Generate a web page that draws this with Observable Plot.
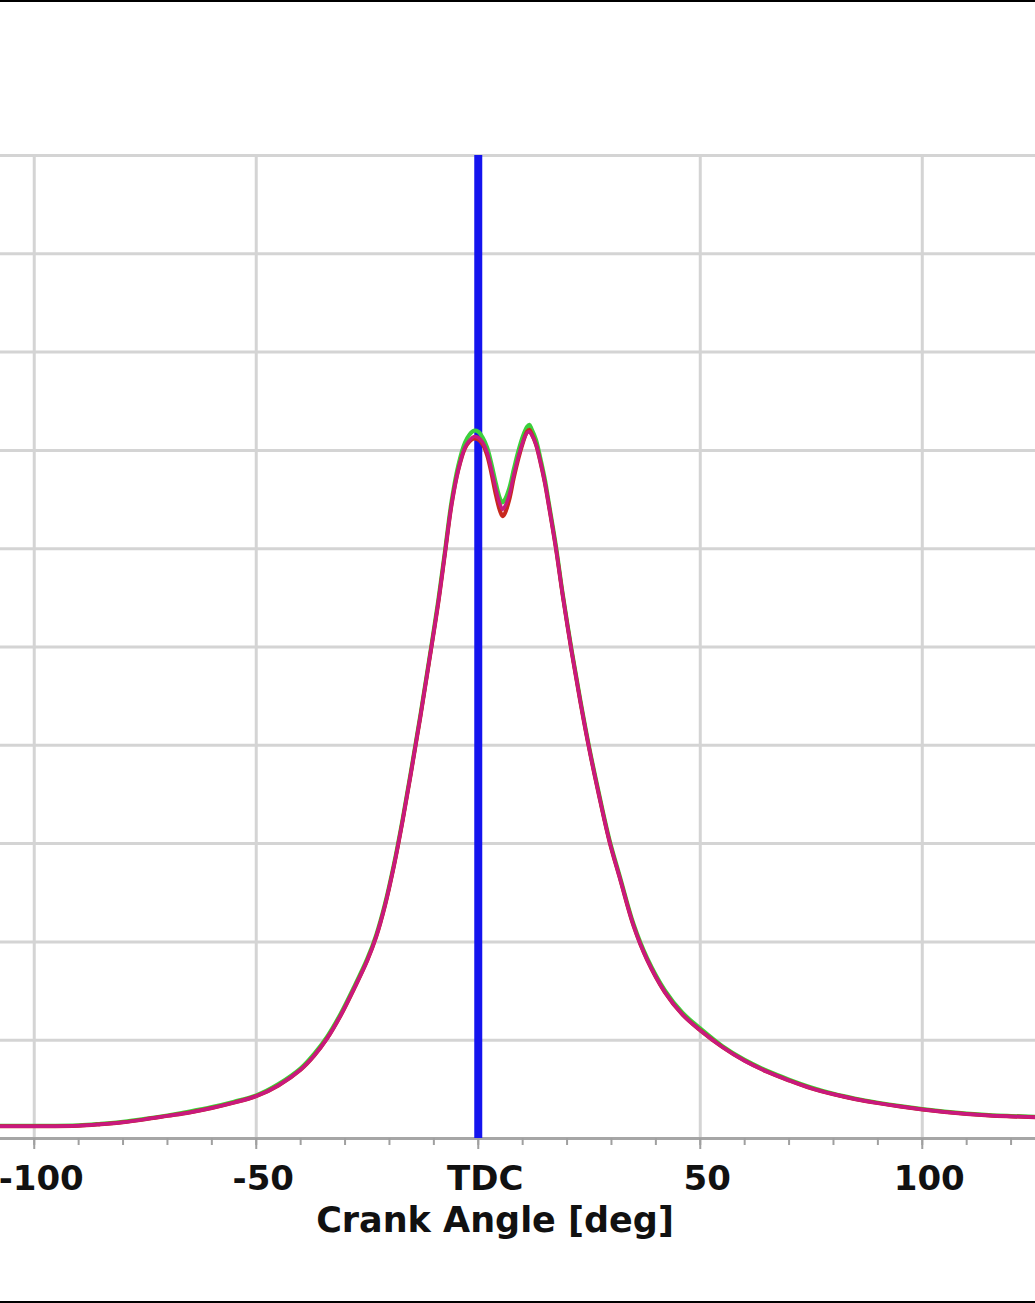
<!DOCTYPE html>
<html><head><meta charset="utf-8">
<script src="https://cdn.jsdelivr.net/npm/d3@7"></script>
<script src="https://cdn.jsdelivr.net/npm/@observablehq/plot@0.6"></script>
<style>
body{margin:0;background:#fff;}
#chart{width:1035px;border-top:2px solid #000;border-bottom:2px solid #000;overflow:hidden;}
#chart svg{display:block;}
</style></head><body><div id="chart"></div>
<script>
// Crank angle [deg]
const angles = [-108, -100, -90, -85, -80, -75, -70, -65, -60, -55, -50, -45, -40, -37, -34, -31, -28, -25, -23, -21, -19, -17, -15, -13, -11, -9, -7.5, -6, -4.5, -3, -2, -1, 0, 1, 2, 3, 4, 5, 5.5, 6, 7, 8, 9, 10, 11, 11.5, 12, 13, 14, 15, 16, 17.5, 19, 21, 23, 25, 27, 29.5, 32, 35, 38, 42, 46, 50, 55, 60, 65, 70, 75, 80, 85, 90, 95, 100, 105, 110, 115, 120, 126];
// Cylinder pressure traces (overlaid)
const pressureMagenta = [1.25, 1.25, 1.3, 1.45, 1.65, 1.95, 2.3, 2.65, 3.1, 3.65, 4.3, 5.4, 7.0, 8.4, 10.2, 12.5, 15.2, 18.1, 20.5, 23.7, 27.7, 32.4, 37.6, 43.0, 48.7, 54.5, 59.5, 64.5, 68.0, 70.3, 71.0, 71.4, 71.3, 70.8, 69.8, 68.0, 66.0, 64.4, 64.0, 64.3, 65.5, 67.5, 69.3, 70.8, 71.8, 71.9, 71.6, 70.6, 68.8, 66.7, 64.1, 60.0, 55.3, 49.6, 44.4, 39.6, 35.3, 30.3, 26.3, 21.6, 18.2, 14.9, 12.6, 11.0, 9.3, 7.9, 6.8, 5.9, 5.1, 4.5, 4.0, 3.6, 3.25, 2.95, 2.7, 2.5, 2.35, 2.25, 2.15];
const pressureGreen = [1.3, 1.3, 1.35, 1.5, 1.7, 2.0, 2.35, 2.75, 3.2, 3.75, 4.4, 5.55, 7.15, 8.6, 10.4, 12.7, 15.4, 18.3, 20.7, 23.9, 27.9, 32.6, 37.8, 43.2, 48.9, 54.8, 59.8, 64.9, 68.5, 70.8, 71.6, 72.0, 71.9, 71.3, 70.3, 68.6, 66.6, 65.0, 64.7, 65.0, 66.2, 68.1, 69.9, 71.4, 72.4, 72.6, 72.2, 71.1, 69.2, 67.1, 64.4, 60.3, 55.5, 49.8, 44.6, 39.8, 35.5, 30.5, 26.5, 21.8, 18.4, 15.1, 12.8, 11.2, 9.4, 8.0, 6.9, 6.0, 5.2, 4.55, 4.05, 3.65, 3.3, 3.0, 2.75, 2.55, 2.4, 2.3, 2.2];
const pressureRed = [1.25, 1.25, 1.3, 1.45, 1.65, 1.95, 2.3, 2.65, 3.1, 3.65, 4.3, 5.4, 7.0, 8.4, 10.2, 12.5, 15.2, 18.1, 20.5, 23.7, 27.7, 32.4, 37.6, 43.0, 48.7, 54.5, 59.5, 64.5, 68.0, 70.2, 70.9, 71.2, 71.1, 70.6, 69.5, 67.6, 65.4, 63.7, 63.3, 63.6, 65.0, 67.2, 69.1, 70.7, 71.9, 72.1, 71.7, 70.6, 68.8, 66.7, 64.1, 60.0, 55.3, 49.6, 44.4, 39.6, 35.3, 30.3, 26.3, 21.6, 18.2, 14.9, 12.6, 11.0, 9.3, 7.9, 6.8, 5.9, 5.1, 4.5, 4.0, 3.6, 3.25, 2.95, 2.7, 2.5, 2.35, 2.25, 2.15];

const majorTicks = [-100, -50, 0, 50, 100];
const minorTicks = [-100, -90, -80, -70, -60, -50, -40, -30, -20, -10, 0, 10, 20, 30, 40, 50, 60, 70, 80, 90, 100, 110, 120];
const gridLevels = [10, 20, 30, 40, 50, 60, 70, 80, 90, 100];
const gridAngles = [-100, -50, 50, 100];
const tdcAngle = [0];
const xLabel = "Crank Angle [deg]";
const tickLabel = d => d === 0 ? "TDC" : String(d);

const rows = p => angles.map((a, i) => ({a, p: p[i]}));

const chart = Plot.plot({
  width: 1035, height: 1299,
  marginTop: 153, marginBottom: 163, marginLeft: 0, marginRight: 0,
  x: {domain: [-107.6, 125.5], label: null},
  y: {domain: [0, 100], axis: null, label: null},
  style: {background: "#fff", fontFamily: "'DejaVu Sans', Verdana, sans-serif", overflow: "visible"},
  marks: [
    Plot.ruleY(gridLevels, {stroke: "#d4d4d4", strokeWidth: 3}),
    Plot.ruleX(gridAngles, {stroke: "#d4d4d4", strokeWidth: 3}),
    Plot.ruleY([0], {stroke: "#a6a6a6", strokeWidth: 3}),
    Plot.ruleX(tdcAngle, {stroke: "#1414ee", strokeWidth: 8}),
    Plot.line(rows(pressureGreen), {x: "a", y: "p", stroke: "#3ccf3c", strokeWidth: 4, curve: "catmull-rom"}),
    Plot.line(rows(pressureRed), {x: "a", y: "p", stroke: "#c8281e", strokeWidth: 4, curve: "catmull-rom"}),
    Plot.line(rows(pressureMagenta), {x: "a", y: "p", stroke: "#c8197f", strokeWidth: 3.5, curve: "catmull-rom"}),
    Plot.axisX({ticks: minorTicks, tickSize: 7, tickFormat: () => "", stroke: "#a0a0a0", strokeWidth: 2, label: null}),
    Plot.axisX({ticks: majorTicks, tickSize: 11, tickFormat: () => "", stroke: "#a0a0a0", strokeWidth: 2, label: null}),
    Plot.text(majorTicks, {x: d => d, text: tickLabel, frameAnchor: "bottom", lineAnchor: "top", dy: 27, dx: 7, fontSize: 34, fontWeight: "bold", fill: "#111"}),
    Plot.text([xLabel], {frameAnchor: "bottom", lineAnchor: "top", dy: 69, dx: -23, fontSize: 35, fontWeight: "bold", fill: "#111"})
  ]
});
document.getElementById("chart").appendChild(chart);
</script></body></html>
